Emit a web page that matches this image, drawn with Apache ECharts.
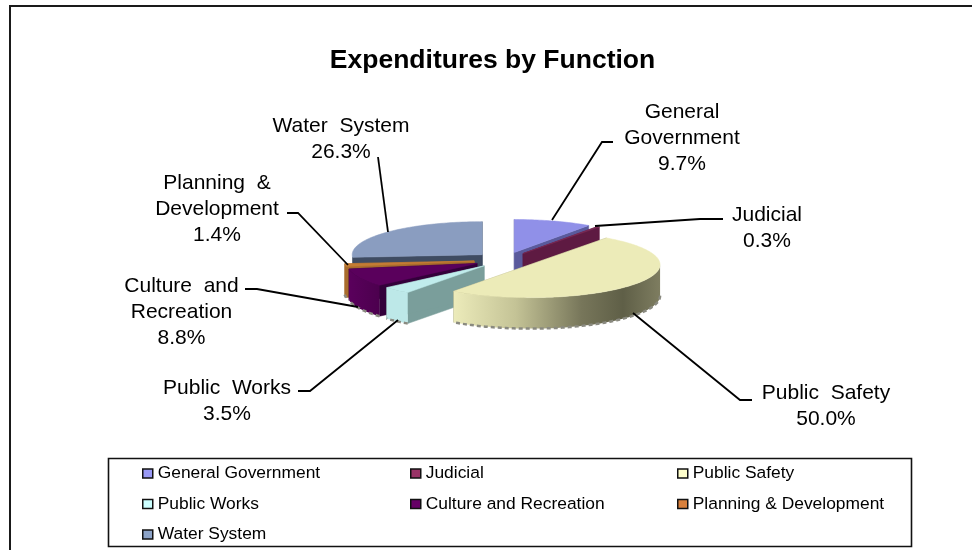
<!DOCTYPE html>
<html><head><meta charset="utf-8">
<script src="https://cdn.jsdelivr.net/npm/echarts@6/dist/echarts.min.js"></script>
<style>html,body{margin:0;padding:0;background:#fff}#c{width:972px;height:550px}</style>
</head><body><div id="c"></div>
<script>
const titleText = 'Expenditures by Function';
const categories = ['General Government','Judicial','Public Safety','Public Works','Culture and Recreation','Planning & Development','Water System'];
const values = [9.7,0.3,50.0,3.5,8.8,1.4,26.3];

// styling and layout, kept apart from the values
const legendColors = ['#9999f5','#993366','#ffffcc','#ccffff','#660066','#d9803c','#8ca3c8'];
const topColors = ['#9090e8','#7a2a55','#ecebb8','#c0ecec','#5a005c','#c47c34','#8a9dc0'];
const cutColors = ['#5a5a9c','#5e1a42','#a8a780','#7a9e9b','#33003a','#a86c2c','#3f4c62'];
const wallStops = [
  null,null,
  [[0,'#ecebba'],[0.3,'#c4c396'],[0.62,'#77765a'],[0.82,'#5f5f47'],[1,'#7e7d60']],
  [[0,'#bde8e8'],[1,'#bde8e8']],
  [[0,'#5a005c'],[1,'#4c004e']],
  [[0,'#a86c2c'],[1,'#a86c2c']],
  [[0,'#3f4c62'],[1,'#3f4c62']]
];
const drawOrder = [6,0,1,5,4,3,2];
const pie = {cx:505, cy:260, rx:130, ry:33, depth:31, explode:31};
const labelCenters = [[682,138.5],[767,228],[826,406],[227,401],[181.5,312],[217,209],[341,139.5]];
const labelBreaks = [true,false,false,false,true,true,false];
const leaderPaths = [
  [[613,142],[602,142],[552,220]],
  [[723,219],[700,219],[595,226]],
  [[752,400],[740,400],[633,313]],
  [[298,391],[310,391],[398,320]],
  [[245,289],[257,289],[358,307]],
  [[287,213],[298,213],[348,265]],
  [[378,157],[388,232]]
];
const FONT = '"Liberation Sans", Arial, sans-serif';
const total = values.reduce((a,b)=>a+b,0);

function sliceAngles(i){
  let s=0; for(let k=0;k<i;k++) s+=values[k];
  return [s/total*Math.PI*2,(s+values[i])/total*Math.PI*2];
}
function renderSlice(i){
  return function(params, api){
    const v = api.value(0);
    const a0 = sliceAngles(i)[0], a1 = a0 + v/total*Math.PI*2, mid=(a0+a1)/2;
    const k = pie.ry/pie.rx;
    const ax = pie.cx + pie.explode*Math.sin(mid);
    const ay = pie.cy - pie.explode*Math.cos(mid)*k;
    const pt = (a,dz)=>[ax+pie.rx*Math.sin(a), ay-pie.ry*Math.cos(a)+(dz||0)];
    const arc = (f,t,dz)=>{const out=[];const n=Math.max(2,Math.ceil((t-f)/0.02));
      for(let j=0;j<=n;j++) out.push(pt(f+(t-f)*j/n,dz)); return out;};
    const d=pie.depth, kids=[];
    const cut=(a)=>({type:'polygon',silent:true,shape:{points:[[ax,ay],pt(a),pt(a,d),[ax,ay+d]]},
      style:{fill:cutColors[i],stroke:cutColors[i],lineWidth:0.5}});
    kids.push(cut(a0)); kids.push(cut(a1));
    // outer wall: only where the rim faces the viewer
    const f=Math.max(a0,Math.PI/2), t=Math.min(a1,Math.PI*1.5);
    if(t>f && wallStops[i]){
      const up=arc(f,t,0), low=arc(f,t,d);
      kids.push({type:'polygon',silent:true,shape:{points:up.concat(low.slice().reverse())},
        style:{fill:{type:'linear',x:0,y:0,x2:1,y2:0,colorStops:wallStops[i].map(s=>({offset:s[0],color:s[1]}))}}});
      kids.push({type:'polyline',silent:true,shape:{points:low},
        style:{fill:null,stroke:'#8a8a80',lineWidth:2.5,lineDash:[4,3]}});
    }
    kids.push({type:'polygon',silent:true,shape:{points:[[ax,ay]].concat(arc(a0,a1,0))},
      style:{fill:topColors[i],stroke:topColors[i],lineWidth:0.5}});
    kids.push({type:'polyline',silent:true,shape:{points:leaderPaths[i]},
      style:{fill:null,stroke:'#000',lineWidth:1.8}});
    let name=categories[i];
    if(labelBreaks[i]){const p=name.lastIndexOf(' ');name=name.slice(0,p)+'\n'+name.slice(p+1);}
    name=name.replace(/ /g,'  ');
    kids.push({type:'text',silent:true,x:labelCenters[i][0],y:labelCenters[i][1],
      style:{text:name+'\n'+v.toFixed(1)+'%',font:'21px '+FONT,fill:'#000',
        align:'center',verticalAlign:'middle',lineHeight:26}});
    return {type:'group',children:kids};
  };
}
const legendBase={orient:'vertical',icon:'rect',itemWidth:10,itemHeight:9,itemGap:11.5,selectedMode:false,padding:0,height:90,
  itemStyle:{borderColor:'#111',borderWidth:1.5},
  textStyle:{fontFamily:FONT,fontSize:17.4,color:'#000',lineHeight:19}};
const chart=echarts.init(document.getElementById('c'),null,{renderer:'canvas'});
chart.setOption({
  animation:false,backgroundColor:'#fff',
  title:{text:titleText,left:487.5,top:42,textAlign:'center',textStyle:{fontFamily:FONT,fontSize:26.5,fontWeight:'bold',color:'#000'}},
  legend:[
    Object.assign({},legendBase,{left:142,top:464,data:[categories[0],categories[3],categories[6]]}),
    Object.assign({},legendBase,{left:410,top:464,data:[categories[1],categories[4]]}),
    Object.assign({},legendBase,{left:677,top:464,data:[categories[2],categories[5]]})
  ],
  graphic:[
    {type:'polyline',silent:true,z:-1,shape:{points:[[10,550],[10,6],[972,6]]},style:{fill:null,stroke:'#1a1a1a',lineWidth:2}},
    {type:'rect',silent:true,z:-1,shape:{x:108.5,y:458.5,width:803,height:88},style:{fill:'#fff',stroke:'#111',lineWidth:1.6}}
  ],
  series:drawOrder.map(i=>({
    type:'custom',name:categories[i],coordinateSystem:'none',
    itemStyle:{color:legendColors[i]},
    data:[{name:categories[i],value:[values[i]]}],
    renderItem:renderSlice(i)
  }))
});
</script></body></html>
